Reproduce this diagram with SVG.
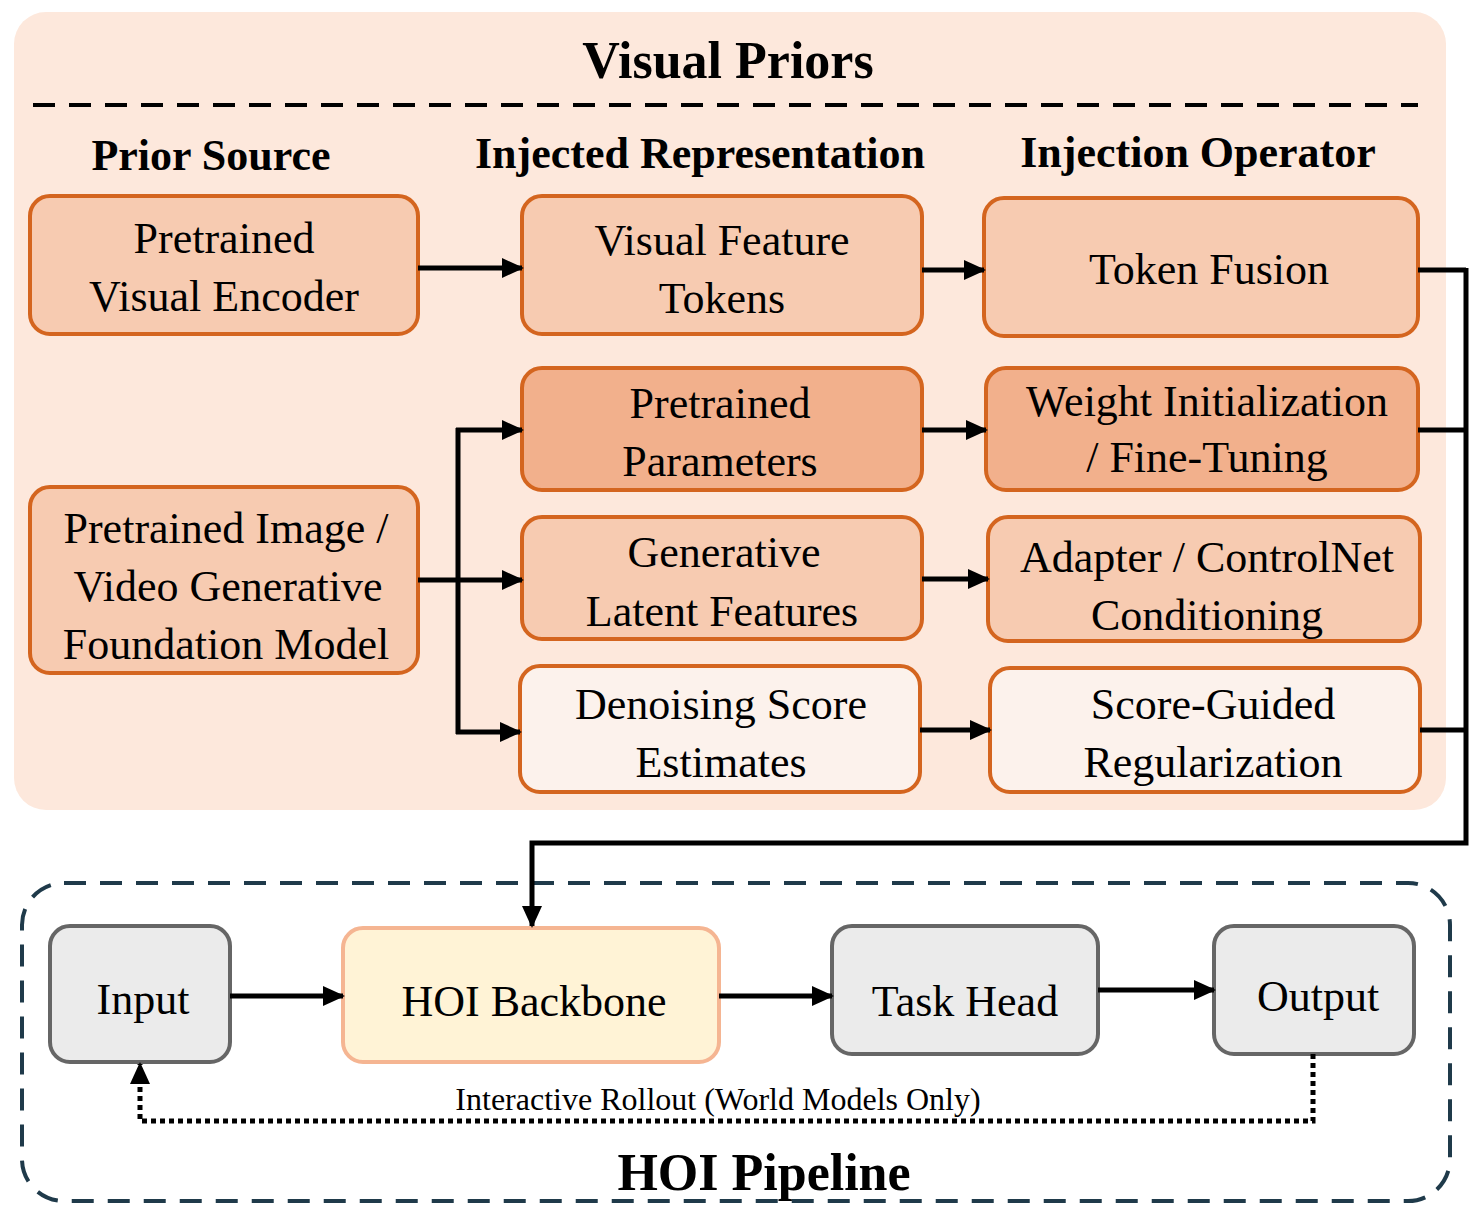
<svg xmlns="http://www.w3.org/2000/svg" width="1484" height="1212" viewBox="0 0 1484 1212">
<style>
text{font-family:"Liberation Serif","Times New Roman",serif;text-anchor:middle;fill:#000}
.h{font-weight:bold;font-size:44px}
.t{font-size:44px}
.b{stroke:#d4651f;stroke-width:4;fill:#f7cbb1}
.d{fill:#f2b08c}
.l{fill:#fcf2ec}
.g{fill:#ebebeb;stroke:#666;stroke-width:4}
.c{fill:none;stroke:#000;stroke-width:5}
</style>
<defs>
<marker id="a" markerUnits="userSpaceOnUse" markerWidth="22" markerHeight="20" refX="20" refY="10" orient="auto"><path d="M0,0L22,10L0,20z" fill="#000"/></marker>
</defs>
<rect x="14" y="12" width="1432" height="798" rx="32" fill="#fde8dc"/>
<text x="728" y="78" style="font-weight:bold;font-size:52px">Visual Priors</text>
<line x1="33" y1="105" x2="1418" y2="105" stroke="#000" stroke-width="4" stroke-dasharray="22,14"/>
<text class="h" x="211" y="170">Prior Source</text>
<text class="h" x="700" y="168">Injected Representation</text>
<text class="h" x="1198" y="167">Injection Operator</text>
<g id="pve"><rect class="b" x="30" y="196" width="388" height="138" rx="20"/><text class="t" x="224" y="253">Pretrained</text><text class="t" x="224" y="311">Visual Encoder</text></g>
<g id="vft"><rect class="b" x="522" y="196" width="400" height="138" rx="20"/><text class="t" x="722" y="255">Visual Feature</text><text class="t" x="722" y="313">Tokens</text></g>
<g id="tf"><rect class="b" x="984" y="198" width="434" height="138" rx="20"/><text class="t" x="1209" y="284">Token Fusion</text></g>
<g id="pp"><rect class="b d" x="522" y="368" width="400" height="122" rx="20"/><text class="t" x="720" y="418">Pretrained</text><text class="t" x="720" y="476">Parameters</text></g>
<g id="wi"><rect class="b d" x="986" y="368" width="432" height="122" rx="20"/><text class="t" x="1207" y="416">Weight Initialization</text><text class="t" x="1207" y="472">/ Fine-Tuning</text></g>
<g id="gm"><rect class="b" x="30" y="487" width="388" height="186" rx="20"/><text class="t" x="226" y="543">Pretrained Image /</text><text class="t" x="228" y="601">Video Generative</text><text class="t" x="226" y="659">Foundation Model</text></g>
<g id="glf"><rect class="b" x="522" y="517" width="400" height="122" rx="20"/><text class="t" x="724" y="567">Generative</text><text class="t" x="722" y="626">Latent Features</text></g>
<g id="ac"><rect class="b" x="988" y="517" width="432" height="124" rx="20"/><text class="t" x="1207" y="572">Adapter / ControlNet</text><text class="t" x="1207" y="630">Conditioning</text></g>
<g id="dse"><rect class="b l" x="520" y="666" width="400" height="126" rx="20"/><text class="t" x="721" y="719">Denoising Score</text><text class="t" x="721" y="777">Estimates</text></g>
<g id="sgr"><rect class="b l" x="990" y="668" width="430" height="124" rx="20"/><text class="t" x="1213" y="719">Score-Guided</text><text class="t" x="1213" y="777">Regularization</text></g>
<rect x="22" y="883" width="1428" height="318" rx="42" fill="none" stroke="#1f3a4a" stroke-width="4" stroke-dasharray="22,14"/>
<g id="in"><rect class="g" x="50" y="926" width="180" height="136" rx="20"/><text class="t" x="143" y="1014">Input</text></g>
<g id="hb"><rect x="343" y="928" width="376" height="134" rx="20" fill="#fff3d6" stroke="#f5b592" stroke-width="4"/><text class="t" x="534" y="1016">HOI Backbone</text></g>
<g id="th"><rect class="g" x="832" y="926" width="266" height="128" rx="20"/><text class="t" x="965" y="1016">Task Head</text></g>
<g id="out"><rect class="g" x="1214" y="926" width="200" height="128" rx="20"/><text class="t" x="1318" y="1011">Output</text></g>
<text x="718" y="1110" style="font-size:32px">Interactive Rollout (World Models Only)</text>
<text x="764" y="1190" style="font-weight:bold;font-size:52px">HOI Pipeline</text>
<g id="connectors">
<path class="c" d="M418,268H522" marker-end="url(#a)"/>
<path class="c" d="M922,270H984" marker-end="url(#a)"/>
<path class="c" d="M922,430H986" marker-end="url(#a)"/>
<path class="c" d="M922,579H988" marker-end="url(#a)"/>
<path class="c" d="M920,730H990" marker-end="url(#a)"/>
<path class="c" d="M418,580H458"/>
<path class="c" d="M458,428V734"/>
<path class="c" d="M456,430H522" marker-end="url(#a)"/>
<path class="c" d="M458,580H522" marker-end="url(#a)"/>
<path class="c" d="M456,732H520" marker-end="url(#a)"/>
<path class="c" d="M1418,270H1466M1418,430H1466M1420,730H1466"/>
<path class="c" d="M1466,268V843H532V926" marker-end="url(#a)"/>
<path class="c" d="M230,996H343" marker-end="url(#a)"/>
<path class="c" d="M719,996H832" marker-end="url(#a)"/>
<path class="c" d="M1098,990H1214" marker-end="url(#a)"/>
<path d="M1313,1054V1121H140V1064" fill="none" stroke="#000" stroke-width="5" stroke-dasharray="5,4" marker-end="url(#a)"/>
</g>
</svg>
